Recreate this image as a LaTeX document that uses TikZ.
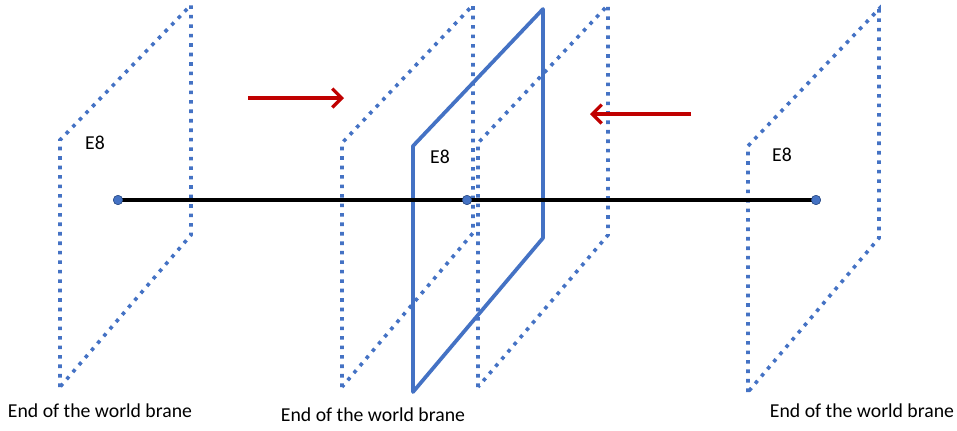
\documentclass[tikz,border=0pt]{standalone}
\usepackage{fontspec}
\setmainfont{Carlito}
\usetikzlibrary{arrows.meta}
\definecolor{brblue}{HTML}{4472C4}
\definecolor{brred}{HTML}{C00000}
\tikzset{
  dotbrane/.style={brblue, line width=2.7pt, dash pattern=on 2.7pt off 4.4pt},
  solidbrane/.style={brblue, line width=2.8pt, line join=round},
  endpt/.style={circle, fill=brblue, draw=brblue!70!black, line width=0.4pt, inner sep=0pt, minimum size=7pt},
  lbl/.style={font=\fontsize{14.8}{17}\selectfont, inner sep=0pt},
  mover/.style={brred, line width=2.5pt, -{Straight Barb[length=7pt,width=14pt,line width=2.5pt]}}
}
\begin{document}
\begin{tikzpicture}[x=0.75pt,y=-0.75pt]
\useasboundingbox (0,0) rectangle (957,430);
% branes
\draw[dotbrane] (60,387) -- (60,140) -- (191,5) -- (191,235) -- cycle;
\draw[dotbrane] (342,387) -- (342,143) -- (473,5) -- (473,233) -- cycle;
\draw[dotbrane] (478,387) -- (478,143) -- (608,5) -- (608,235) -- cycle;
\draw[dotbrane] (748,392) -- (748,146) -- (879,9) -- (879,238) -- cycle;
\draw[solidbrane] (413,392) -- (413,146) -- (543,9) -- (543,238) -- cycle;
% line with endpoints
\node[endpt] (pL) at (118,200) {};
\node[endpt] (pM) at (467,200) {};
\node[endpt] (pR) at (816,200) {};
\draw[black, line width=2.6pt] (pL.center) -- (pR.center);
\node[endpt] at (pL) {};
\node[endpt] at (pM) {};
\node[endpt] at (pR) {};
% arrows
\coordinate (a1s) at (248,98);
\coordinate (a1e) at (344,98);
\coordinate (a2s) at (691,114);
\coordinate (a2e) at (590,114);
\draw[mover] (a1s) -- (a1e);
\draw[mover] (a2s) -- (a2e);
% labels
\node[lbl] (e1) at (95,143) {E8};
\node[lbl] (e2) at (440,157) {E8};
\node[lbl] (e3) at (782,155) {E8};
\node[lbl] (t1) at (100,411) {End of the world brane};
\node[lbl] (t2) at (373,415) {End of the world brane};
\node[lbl] (t3) at (862,411) {End of the world brane};
\end{tikzpicture}
\end{document}
